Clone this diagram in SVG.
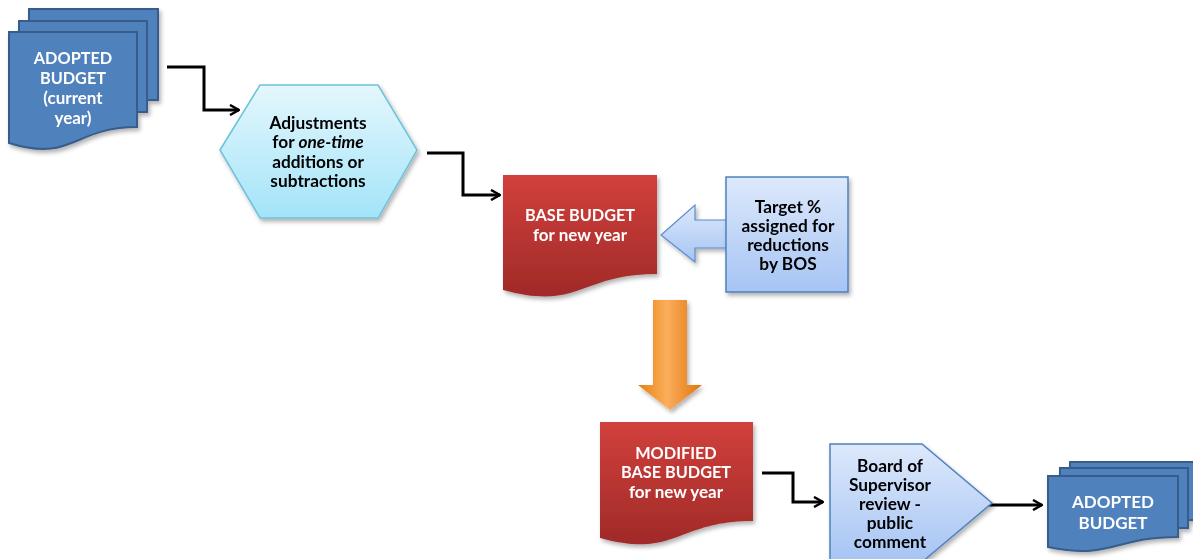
<svg xmlns="http://www.w3.org/2000/svg" width="1193" height="559" viewBox="0 0 1193 559">
<style>
  text { font-family: Lato, "Open Sans", "Liberation Sans", sans-serif; font-weight: bold; text-anchor: middle; }
  .w { fill: #ffffff; font-size: 17px; }
  .c { font-size: 16.3px; }
  .k { fill: #000000; font-size: 17.3px; }
  .bluedoc { fill: #4f81bd; stroke: #385d8a; stroke-width: 2; }
  .conn { fill: none; stroke: #000000; stroke-width: 3; }
</style>
<defs>
  <linearGradient id="cyan" x1="0" y1="0" x2="0" y2="1">
    <stop offset="0" stop-color="#e4f7fd"/>
    <stop offset="1" stop-color="#a3e4f8"/>
  </linearGradient>
  <linearGradient id="lblue" x1="0" y1="0" x2="0" y2="1">
    <stop offset="0" stop-color="#dde9fb"/>
    <stop offset="1" stop-color="#a6c4f4"/>
  </linearGradient>
  <linearGradient id="red" x1="0" y1="0" x2="0" y2="1">
    <stop offset="0" stop-color="#d1403c"/>
    <stop offset="1" stop-color="#a02a28"/>
  </linearGradient>
  <linearGradient id="orange" x1="0" y1="0" x2="1" y2="0">
    <stop offset="0" stop-color="#e8800f"/>
    <stop offset="0.45" stop-color="#fbae5c"/>
    <stop offset="1" stop-color="#e0740c"/>
  </linearGradient>
  <marker id="ah" viewBox="0 0 12 12" refX="11" refY="6" markerWidth="12" markerHeight="12" markerUnits="userSpaceOnUse" orient="auto">
    <path d="M2,1 L11,6 L2,11" fill="none" stroke="#000" stroke-width="2.5"/>
  </marker>
  <filter id="sh" x="-10%" y="-10%" width="130%" height="130%">
    <feDropShadow dx="2" dy="3" stdDeviation="2" flood-color="#000" flood-opacity="0.3"/>
  </filter>
</defs>

<g id="connectors">
  <path class="conn" d="M167,67 H204 V110 H239" marker-end="url(#ah)"/>
  <path class="conn" d="M427,153 H463 V195 H500" marker-end="url(#ah)"/>
  <path class="conn" d="M762,473 H793 V502 H823" marker-end="url(#ah)"/>
  <path class="conn" d="M985,505 H1042" marker-end="url(#ah)"/>
</g>

<g id="adopted-current" filter="url(#sh)">
  <path class="bluedoc" d="M29,9 H158 V100 H29 Z"/>
  <path class="bluedoc" d="M19,21 H147 V112 H19 Z"/>
  <path class="bluedoc" d="M9,32 H137 V127 C73,127 73,163 9,143 Z"/>
  <text class="w c" x="73" y="64">ADOPTED</text>
  <text class="w c" x="73" y="84">BUDGET</text>
  <text class="w" x="73" y="104">(current</text>
  <text class="w" x="73" y="124">year)</text>
</g>

<g id="adjustments" filter="url(#sh)">
  <polygon points="220,150 260,85 378,85 417,150 378,218 260,218" fill="url(#cyan)" stroke="#6bc3db" stroke-width="1.5"/>
  <text class="k" x="318" y="129">Adjustments</text>
  <text class="k" x="318" y="148">for <tspan font-style="italic">one-time</tspan></text>
  <text class="k" x="318" y="168">additions or</text>
  <text class="k" x="318" y="187">subtractions</text>
</g>

<g id="base-budget" filter="url(#sh)">
  <path d="M503,175 H657 V274 C580,274 580,311 503,290 Z" fill="url(#red)"/>
  <text class="w c" x="580" y="221">BASE BUDGET</text>
  <text class="w" x="580" y="241">for new year</text>
</g>

<g id="target-arrow" filter="url(#sh)">
  <path d="M661,235 L695,205 V220 H730 V248 H695 V262 Z" fill="url(#lblue)" stroke="#5b8bd0" stroke-width="1.2"/>
</g>

<g id="target" filter="url(#sh)">
  <rect x="726" y="177" width="122" height="115" fill="url(#lblue)" stroke="#4f81bd" stroke-width="1.5"/>
  <text class="k" x="788" y="213">Target %</text>
  <text class="k" x="788" y="232">assigned for</text>
  <text class="k" x="788" y="251">reductions</text>
  <text class="k" x="788" y="270">by BOS</text>
</g>

<g id="orange-arrow" filter="url(#sh)">
  <path d="M653,300 H687 V385 H702 L670,410 L638,385 H653 Z" fill="url(#orange)"/>
</g>

<g id="modified" filter="url(#sh)">
  <path d="M600,422 H753 V521 C676,521 676,559 600,538 Z" fill="url(#red)"/>
  <text class="w c" x="676" y="459">MODIFIED</text>
  <text class="w c" x="676" y="478">BASE BUDGET</text>
  <text class="w" x="676" y="498">for new year</text>
</g>

<g id="board" filter="url(#sh)">
  <path d="M830,444 H922 L992,503 L922,562 H830 Z" fill="url(#lblue)" stroke="#4f81bd" stroke-width="1.5"/>
  <text class="k" x="890" y="472">Board of</text>
  <text class="k" x="890" y="491">Supervisor</text>
  <text class="k" x="890" y="510">review -</text>
  <text class="k" x="890" y="529">public</text>
  <text class="k" x="890" y="548">comment</text>
</g>

<g id="adopted-final" filter="url(#sh)">
  <path class="bluedoc" d="M1070,462 H1200 V520 H1070 Z"/>
  <path class="bluedoc" d="M1060,468 H1188 V528 H1060 Z"/>
  <path class="bluedoc" d="M1048,476 H1178 V537 C1113,537 1113,560 1048,547 Z"/>
  <text class="w" x="1113" y="508" font-size="18.5">ADOPTED</text>
  <text class="w" x="1113" y="529" font-size="18.5">BUDGET</text>
</g>
</svg>
